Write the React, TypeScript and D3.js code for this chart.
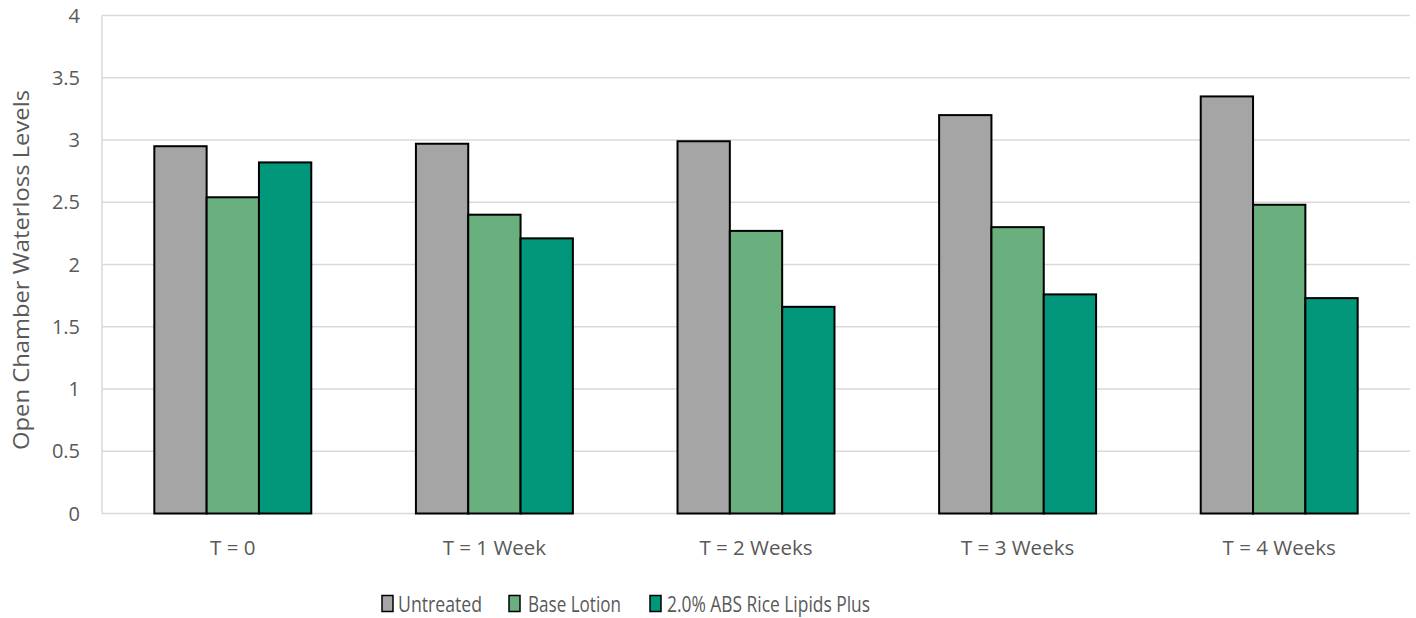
import React from "react";
import * as d3 from "d3";

const categories = ["T = 0", "T = 1 Week", "T = 2 Weeks", "T = 3 Weeks", "T = 4 Weeks"];
const seriesNames = ["Untreated", "Base Lotion", "2.0% ABS Rice Lipids Plus"];
const untreated = [2.95, 2.97, 2.99, 3.2, 3.35];
const baseLotion = [2.54, 2.4, 2.27, 2.3, 2.48];
const riceLipids = [2.82, 2.21, 1.66, 1.76, 1.73];
const seriesColors = ["#A5A5A5", "#6AB07E", "#00977A"];
const yTicks = [0, 0.5, 1, 1.5, 2, 2.5, 3, 3.5, 4];
const yTitle = "Open Chamber Waterloss Levels";

const W = 1416;
const H = 618;
const FONT = "'Open Sans', sans-serif";
const TEXT = "#595959";

export default function App() {
  const m = { left: 102, right: 1410, top: 15.5, bottom: 513.5 };
  const x0 = d3.scaleBand<string>().domain(categories).range([m.left, m.right]).paddingInner(0).paddingOuter(0);
  const y = d3.scaleLinear().domain([0, 4]).range([m.bottom, m.top]);
  const series = [untreated, baseLotion, riceLipids];
  const barW = x0.bandwidth() / 5;
  const x1 = d3.scaleBand<number>().domain([0, 1, 2]).range([0, barW * 3]);

  const legendItems = [
    { x: 382, tx: 398, len: 84 },
    { x: 509, tx: 528, len: 93 },
    { x: 650, tx: 667, len: 203 },
  ];

  return (
    <svg width={W} height={H} style={{ position: "absolute", left: 0, top: 0 }} fontFamily={FONT}>
      <rect x={0} y={0} width={W} height={H} fill="#fff" />
      {yTicks.map((t) => (
        <g key={t}>
          <line x1={m.left} x2={m.right} y1={y(t)} y2={y(t)} stroke="#D9D9D9" strokeWidth={1.5} />
          <text x={80} y={y(t)} dy="0.35em" textAnchor="end" fontSize={20} fill={TEXT}>
            {d3.format("")(t)}
          </text>
        </g>
      ))}
      <line x1={m.left} x2={m.left} y1={m.top} y2={m.bottom} stroke="#D9D9D9" strokeWidth={1.5} />
      {categories.map((c, i) => {
        const gx = (x0(c) as number) + (x0.bandwidth() - barW * 3) / 2;
        return (
          <g key={c}>
            {series.map((s, k) => (
              <rect
                key={k}
                x={gx + (x1(k) as number)}
                y={y(s[i])}
                width={x1.bandwidth()}
                height={y(0) - y(s[i])}
                fill={seriesColors[k]}
                stroke="#000"
                strokeWidth={2}
              />
            ))}
            <text x={(x0(c) as number) + x0.bandwidth() / 2} y={555} textAnchor="middle" fontSize={20.5} fill={TEXT}>
              {c}
            </text>
          </g>
        );
      })}
      <text
        transform={`translate(28.5,270) rotate(-90)`}
        textAnchor="middle"
        fontSize={21}
        fill={TEXT}
        textLength={360}
        lengthAdjust="spacingAndGlyphs"
      >
        {yTitle}
      </text>
      {seriesNames.map((n, k) => (
        <g key={n}>
          <rect x={legendItems[k].x} y={595.5} width={11} height={16} fill={seriesColors[k]} stroke="#000" strokeWidth={1.5} />
          <text
            x={legendItems[k].tx}
            y={611.5}
            fontSize={21.5}
            fill={TEXT}
            textLength={legendItems[k].len}
            lengthAdjust="spacingAndGlyphs"
          >
            {n}
          </text>
        </g>
      ))}
    </svg>
  );
}
